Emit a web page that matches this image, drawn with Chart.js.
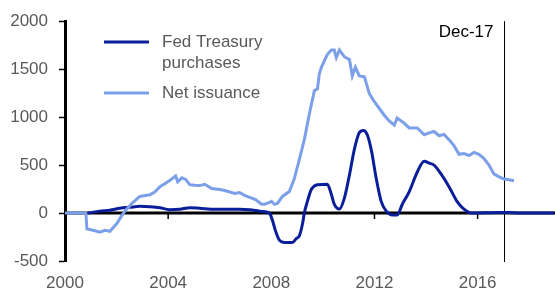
<!DOCTYPE html>
<html>
<head>
<meta charset="utf-8">
<script src="https://cdn.jsdelivr.net/npm/chart.js@4.4.1/dist/chart.umd.min.js"></script>
<style>
    html, body { margin: 0; padding: 0; background: #fff; }
    #wrap { width: 555px; height: 293px; position: relative; }
</style>
</head>
<body>
<div id="wrap"><canvas id="myChart"></canvas></div>
<script>
// series labels
var label_fed = ['Fed Treasury', 'purchases'];
var label_net = ['Net issuance'];
var marker_label = 'Dec-17';
var marker_year = 2017.02;

// Net issuance (decimal year / value)
var net_years = [2000.00, 2000.81, 2000.85, 2001.16, 2001.35, 2001.55, 2001.74, 2002.01, 2002.17, 2002.32,
    2002.59, 2002.90, 2003.29, 2003.48, 2003.68, 2003.87, 2004.06, 2004.29, 2004.37, 2004.53,
    2004.68, 2004.84, 2005.03, 2005.22, 2005.42, 2005.69, 2006.00, 2006.19, 2006.58, 2006.77,
    2006.96, 2007.16, 2007.39, 2007.62, 2007.74, 2007.93, 2008.01, 2008.12, 2008.24, 2008.43,
    2008.70, 2008.89, 2009.09, 2009.28, 2009.48, 2009.67, 2009.79, 2009.86, 2009.94, 2010.17,
    2010.33, 2010.44, 2010.52, 2010.64, 2010.83, 2011.03, 2011.14, 2011.26, 2011.41, 2011.61,
    2011.80, 2011.99, 2012.19, 2012.38, 2012.57, 2012.77, 2012.88, 2013.15, 2013.35, 2013.66,
    2013.93, 2014.12, 2014.31, 2014.51, 2014.70, 2014.89, 2015.09, 2015.28, 2015.47, 2015.67,
    2015.86, 2016.05, 2016.24, 2016.44, 2016.63, 2016.83, 2017.02, 2017.21, 2017.41];
var net_values = [0, 0, -165, -185, -200, -180, -190, -110, -40, 20,
    100, 173, 190, 220, 275, 306, 340, 387, 326, 367,
    350, 296, 290, 286, 300, 255, 245, 235, 204, 214,
    185, 163, 140, 92, 92, 110, 122, 90, 100, 173,
    224, 357, 561, 765, 1040, 1275, 1295, 1448, 1520, 1652,
    1700, 1700, 1620, 1700, 1630, 1600, 1430, 1520, 1430, 1420,
    1245, 1163, 1090, 1020, 960, 918, 990, 938, 887, 887,
    816, 836, 850, 806, 820, 765, 700, 612, 620, 600,
    632, 612, 570, 500, 408, 377, 355, 347, 337];

// Fed Treasury purchases
var fed_years = [2000.89, 2001.35, 2001.74, 2002.13, 2002.51, 2002.90, 2003.29, 2003.68, 2004.06, 2004.45,
    2004.84, 2005.22, 2005.80, 2006.38, 2006.77, 2007.16, 2007.54, 2007.85, 2007.93, 2008.05,
    2008.16, 2008.32, 2008.51, 2008.82, 2008.97, 2009.09, 2009.21, 2009.28, 2009.40, 2009.55,
    2009.79, 2010.17, 2010.33, 2010.44, 2010.64, 2010.83, 2011.03, 2011.22, 2011.41, 2011.57,
    2011.72, 2011.88, 2012.07, 2012.26, 2012.46, 2012.69, 2012.88, 2013.08, 2013.35, 2013.66,
    2013.93, 2014.12, 2014.31, 2014.58, 2014.89, 2015.20, 2015.47, 2015.74, 2016.83, 2017.21,
    2017.60, 2018.96];
var fed_values = [0, 20, 30, 50, 60, 70, 65, 55, 35, 40,
    55, 50, 40, 40, 40, 35, 20, 10, 0, -80,
    -185, -285, -306, -306, -265, -235, -112, 0, 122, 245,
    296, 300, 194, 92, 41, 153, 398, 663, 836, 860,
    816, 653, 357, 122, 20, -20, -20, 92, 224, 428,
    540, 520, 500, 408, 275, 122, 41, 0, 5, 5,
    0, 0];

var x_ticks = [2000, 2004, 2008, 2012, 2016];
var y_ticks = [-500, 0, 500, 1000, 1500, 2000];

var warna_fed = '#0a1e9a';
var warna_net = '#7b9fe9';
var warna_teks = '#595959';
var huruf = '17px "Liberation Sans", Arial, sans-serif';

function toPoints(xs, ys) {
    var pts = [];
    for (var i = 0; i < xs.length; i++) {
        pts.push({x: xs[i], y: ys[i]});
    }
    return pts;
}

// zero axis, ticks on it, Dec-17 marker and the legend
var extras = {
    id: 'extras',
    beforeDatasetsDraw: function(chart) {
        var ctx = chart.ctx;
        var xs = chart.scales.x, ys = chart.scales.y;
        var area = chart.chartArea;
        var y0 = ys.getPixelForValue(0);
        ctx.save();
        // Dec-17 line
        var xm = Math.round(xs.getPixelForValue(marker_year)) + 0.5;
        ctx.strokeStyle = '#000';
        ctx.lineWidth = 1;
        ctx.beginPath();
        ctx.moveTo(xm, area.top);
        ctx.lineTo(xm, area.bottom + 1);
        ctx.stroke();
        ctx.fillStyle = '#000';
        ctx.font = huruf;
        ctx.textAlign = 'right';
        ctx.textBaseline = 'middle';
        ctx.fillText(marker_label, xm - 11, area.top + 11);

        // zero line with its tick marks, under the series
        ctx.lineWidth = 3;
        ctx.beginPath();
        ctx.moveTo(area.left, y0);
        ctx.lineTo(area.right, y0);
        ctx.stroke();
        ctx.lineWidth = 1.5;
        for (var i = 1; i < x_ticks.length; i++) {
            var tx = xs.getPixelForValue(x_ticks[i]);
            ctx.beginPath();
            ctx.moveTo(tx, y0);
            ctx.lineTo(tx, y0 + 6);
            ctx.stroke();
        }
        ctx.restore();
    },
    afterDatasetsDraw: function(chart) {
        var ctx = chart.ctx;
        // legend
        var ds = chart.data.datasets;
        var rows = [[42, ds[0], [42, 63]], [93, ds[1], [93]]];
        ctx.save();
        ctx.font = huruf;
        ctx.fillStyle = warna_teks;
        ctx.textAlign = 'left';
        ctx.textBaseline = 'middle';
        for (var r = 0; r < rows.length; r++) {
            var d = rows[r][1];
            ctx.strokeStyle = d.borderColor;
            ctx.lineWidth = 3;
            ctx.beginPath();
            ctx.moveTo(104, rows[r][0]);
            ctx.lineTo(149, rows[r][0]);
            ctx.stroke();
            var lines = r === 0 ? label_fed : label_net;
            for (var k = 0; k < lines.length; k++) {
                ctx.fillText(lines[k], 162, rows[r][2][k]);
            }
        }
        ctx.restore();
    }
};

var ctx = document.getElementById('myChart').getContext('2d');
var grafik = new Chart(ctx, {
    type: 'line',
    data: {
        datasets: [{
            label: label_fed.join(' '),
            data: toPoints(fed_years, fed_values),
            borderColor: warna_fed,
            borderWidth: 3,
            pointRadius: 0,
            cubicInterpolationMode: 'monotone',
            fill: false,
            order: 1
        }, {
            label: label_net.join(' '),
            data: toPoints(net_years, net_values),
            borderColor: warna_net,
            borderWidth: 3,
            pointRadius: 0,
            tension: 0,
            fill: false,
            order: 0
        }]
    },
    options: {
        responsive: true,
        maintainAspectRatio: false,
        animation: false,
        layout: { padding: { top: 16, right: 0, left: 0, bottom: 0 } },
        plugins: {
            legend: { display: false },
            tooltip: { enabled: false }
        },
        scales: {
            x: {
                type: 'linear',
                min: 2000,
                max: 2019,
                grid: { display: false, drawTicks: false, tickLength: 0 },
                border: { display: false },
                afterFit: function(scale) { scale.height = 32; },
                afterBuildTicks: function(scale) {
                    scale.ticks = x_ticks.map(function(v) { return {value: v}; });
                },
                ticks: {
                    color: warna_teks,
                    font: { family: '"Liberation Sans", Arial, sans-serif', size: 17 },
                    padding: 12,
                    maxRotation: 0,
                    autoSkip: false,
                    callback: function(v) { return String(v); }
                }
            },
            y: {
                min: -500,
                max: 2000,
                afterFit: function(scale) { scale.width = 65; },
                afterBuildTicks: function(scale) {
                    scale.ticks = y_ticks.map(function(v) { return {value: v}; });
                },
                grid: {
                    drawOnChartArea: false,
                    drawTicks: true,
                    tickLength: 6,
                    tickWidth: 1.5,
                    tickColor: '#000'
                },
                border: { display: true, color: '#000', width: 3 },
                ticks: {
                    color: warna_teks,
                    font: { family: '"Liberation Sans", Arial, sans-serif', size: 17 },
                    padding: 11,
                    callback: function(v) { return String(v); }
                }
            }
        }
    },
    plugins: [extras]
});
</script>
</body>
</html>
